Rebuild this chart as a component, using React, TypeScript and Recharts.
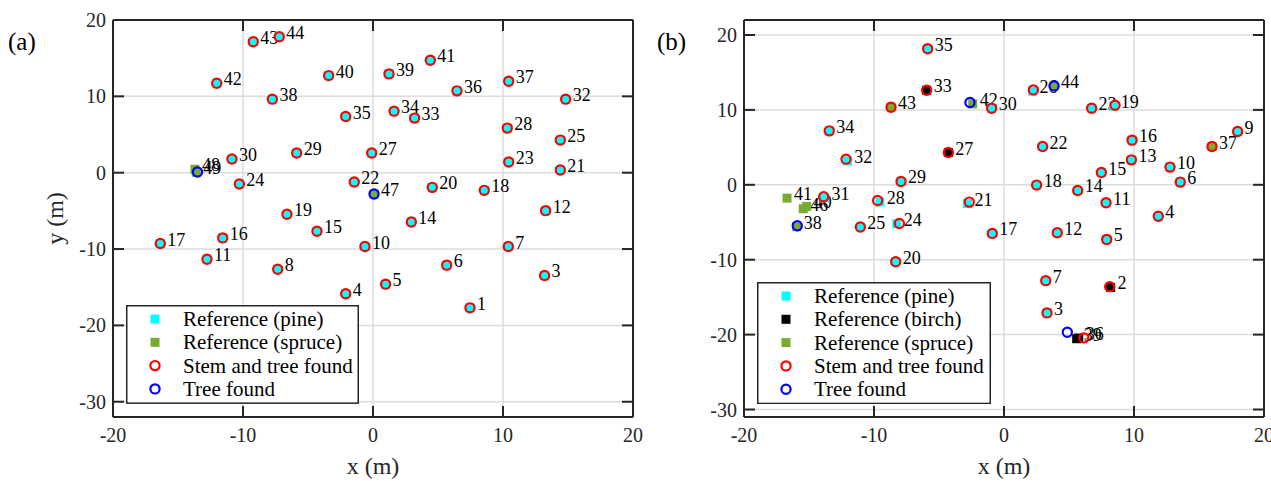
import React from 'react';
import { ScatterChart, Scatter, XAxis, YAxis, CartesianGrid, Legend } from 'recharts';

const FONT = '"Liberation Serif", "DejaVu Serif", serif';
const AX = '#262626';
const C_PINE = '#00ffff';
const C_BIRCH = '#000000';
const C_SPRUCE = '#77ac30';
const C_STEM = '#ff0000';
const C_TREE = '#0000ff';

const X_TICKS = [-20, -10, 0, 10, 20];
const Y_TICKS = [-30, -20, -10, 0, 10, 20];
const X_DOMAIN: [number, number] = [-20, 20];
const A_Y_DOMAIN: [number, number] = [-32, 20];
const B_Y_DOMAIN: [number, number] = [-31, 22];

type RefRow = [string, number, number];
type XY = [number, number];

// ---------- Panel (a) ----------
const A_PINE_REF: RefRow[] = [
  ['1', 7.46, -17.7], ['3', 13.2, -13.46], ['4', -2.1, -15.86], ['5', 0.97, -14.6],
  ['6', 5.67, -12.11], ['7', 10.41, -9.67], ['8', -7.33, -12.64], ['10', -0.62, -9.67],
  ['11', -12.77, -11.33], ['12', 13.28, -4.97], ['14', 2.95, -6.45], ['15', -4.31, -7.67],
  ['16', -11.56, -8.54], ['17', -16.36, -9.28], ['18', 8.56, -2.31], ['19', -6.62, -5.45],
  ['20', 4.56, -1.92], ['21', 14.41, 0.35], ['22', -1.44, -1.22], ['23', 10.44, 1.4],
  ['24', -10.28, -1.48], ['25', 14.41, 4.27], ['27', -0.1, 2.57], ['28', 10.33, 5.84],
  ['29', -5.87, 2.57], ['30', -10.85, 1.79], ['32', 14.82, 9.63], ['33', 3.2, 7.15],
  ['34', 1.62, 8.06], ['35', -2.1, 7.36], ['36', 6.46, 10.72], ['37', 10.44, 11.98],
  ['38', -7.74, 9.63], ['39', 1.23, 12.94], ['40', -3.41, 12.72], ['41', 4.41, 14.73],
  ['42', -12.02, 11.72], ['43', -9.21, 17.16], ['44', -7.21, 17.8],
];
const A_SPRUCE_REF: RefRow[] = [
  ['47', 0.08, -2.8], ['48', -13.7, 0.45], ['49', -13.6, 0.05],
];
const A_STEM: XY[] = [
  [7.46, -17.7], [13.2, -13.46], [-2.1, -15.86], [0.97, -14.6],
  [5.67, -12.11], [10.41, -9.67], [-7.33, -12.64], [-0.62, -9.67],
  [-12.77, -11.33], [13.28, -4.97], [2.95, -6.45], [-4.31, -7.67],
  [-11.56, -8.54], [-16.36, -9.28], [8.56, -2.31], [-6.62, -5.45],
  [4.56, -1.92], [14.41, 0.35], [-1.44, -1.22], [10.44, 1.4],
  [-10.28, -1.48], [14.41, 4.27], [-0.1, 2.57], [10.33, 5.84],
  [-5.87, 2.57], [-10.85, 1.79], [14.82, 9.63], [3.2, 7.15],
  [1.62, 8.06], [-2.1, 7.36], [6.46, 10.72], [10.44, 11.98],
  [-7.74, 9.63], [1.23, 12.94], [-3.41, 12.72], [4.41, 14.73],
  [-12.02, 11.72], [-9.21, 17.16], [-7.21, 17.8],
];
const A_TREE: XY[] = [[0.08, -2.8], [-13.5, 0.1]];

// ---------- Panel (b) ----------
const B_PINE_REF: RefRow[] = [
  ['35', -5.87, 18.17], ['34', -13.44, 7.2], ['32', -12.05, 3.2], ['29', -7.92, 0.44],
  ['31', -13.8, -1.75], ['28', -9.55, -2.3], ['21', -2.8, -2.5], ['25', -11.05, -5.64],
  ['24', -8.25, -5.2], ['20', -8.33, -10.27], ['30', -0.95, 10.22], ['26', 2.2, 12.5],
  ['23', 6.74, 10.22], ['19', 8.45, 10.5], ['16', 9.85, 5.96], ['22', 2.97, 5.11],
  ['9', 17.97, 7.11], ['13', 9.8, 3.33], ['10', 12.77, 2.36], ['15', 7.49, 1.64],
  ['6', 13.56, 0.36], ['18', 2.51, -0.04], ['14', 5.67, -0.76], ['11', 7.85, -2.4],
  ['4', 11.87, -4.2], ['17', -0.9, -6.49], ['12', 4.1, -6.4], ['5', 7.9, -7.29],
  ['7', 3.21, -12.8], ['3', 3.31, -17.1],
];
const B_BIRCH_REF: RefRow[] = [
  ['33', -5.95, 12.62], ['27', -4.28, 4.31], ['2', 8.2, -13.7],
  ['39', 5.59, -20.55], ['36', 5.75, -20.45],
];
const B_SPRUCE_REF: RefRow[] = [
  ['43', -8.69, 10.36], ['42', -2.41, 10.8], ['44', 3.85, 13.2], ['37', 16.0, 5.11],
  ['41', -16.69, -1.78], ['46', -15.44, -3.2], ['40', -15.18, -2.89], ['38', -15.95, -5.6],
];
const B_STEM: XY[] = [
  [-5.87, 18.17], [-13.44, 7.2], [-12.15, 3.42], [-7.92, 0.44],
  [-13.87, -1.6], [-9.72, -2.09], [-2.67, -2.31], [-11.05, -5.64],
  [-8.05, -5.16], [-8.33, -10.27], [-0.95, 10.22], [2.26, 12.67],
  [6.74, 10.22], [8.54, 10.62], [9.85, 5.96], [2.97, 5.11],
  [17.97, 7.11], [9.8, 3.33], [12.77, 2.36], [7.49, 1.64],
  [13.56, 0.36], [2.51, -0.04], [5.67, -0.76], [7.85, -2.4],
  [11.87, -4.2], [-0.9, -6.49], [4.1, -6.4], [7.9, -7.29],
  [3.21, -12.8], [3.31, -17.1],
  [-5.95, 12.62], [-4.28, 4.31], [8.13, -13.6], [6.15, -20.44],
  [-8.69, 10.36], [16.0, 5.11],
];
const B_TREE: XY[] = [[-2.62, 10.98], [3.85, 13.2], [-15.9, -5.47], [4.87, -19.69]];

const LEGEND_A = [
  { kind: 'square', color: C_PINE, label: 'Reference (pine)' },
  { kind: 'square', color: C_SPRUCE, label: 'Reference (spruce)' },
  { kind: 'circle', color: C_STEM, label: 'Stem and tree found' },
  { kind: 'circle', color: C_TREE, label: 'Tree found' },
];
const LEGEND_B = [
  { kind: 'square', color: C_PINE, label: 'Reference (pine)' },
  { kind: 'square', color: C_BIRCH, label: 'Reference (birch)' },
  { kind: 'square', color: C_SPRUCE, label: 'Reference (spruce)' },
  { kind: 'circle', color: C_STEM, label: 'Stem and tree found' },
  { kind: 'circle', color: C_TREE, label: 'Tree found' },
];

const toRefs = (rows: RefRow[]) => rows.map(([id, x, y]) => ({ id, x, y }));
const toXY = (rows: XY[]) => rows.map(([x, y]) => ({ x, y }));

const SQ = 9;
const R = 4.6;
const TICK_PX = 11;
const TM_BOTTOM = 11;
const TM_LEFT = 7;

const squareShape = (color: string) => (p: any) => (
  <rect x={p.cx - SQ / 2} y={p.cy - SQ / 2} width={SQ} height={SQ} fill={color} />
);
const circleShape = (color: string) => (p: any) => (
  <circle cx={p.cx} cy={p.cy} r={R} fill="none" stroke={color} strokeWidth={2.2} />
);
const labelShape = (p: any) => (
  <text x={p.cx + 7} y={p.cy + 2} fontSize={18} fontFamily={FONT} fill="#000">
    {p.payload?.id}
  </text>
);
// inward tick mark drawn at a tick position on the box edge
const tickMarkShape = (p: any) => {
  const d = p.payload?.dir;
  const ddx = d === 'right' ? TICK_PX : d === 'left' ? -TICK_PX : 0;
  const ddy = d === 'down' ? TICK_PX : d === 'up' ? -TICK_PX : 0;
  return <line x1={p.cx} y1={p.cy} x2={p.cx + ddx} y2={p.cy + ddy} stroke={AX} strokeWidth={2} />;
};

const BottomTick = (p: any) => (
  <text x={p.x} y={p.y} dy="0.71em" textAnchor="middle" fontSize={20} fontFamily={FONT} fill={AX}>
    {p.payload.value}
  </text>
);
const LeftTick = (p: any) => (
  <text x={p.x} y={p.y} dy="0.355em" textAnchor="end" fontSize={20} fontFamily={FONT} fill={AX}>
    {p.payload.value}
  </text>
);

const XLabel = (props: any) => {
  const vb = props.viewBox;
  return (
    <text x={vb.x + vb.width / 2} y={vb.y + 49} textAnchor="middle" dominantBaseline="central"
      fontSize={24} fontFamily={FONT} fill={AX}>x (m)</text>
  );
};
const YLabel = (props: any) => {
  const vb = props.viewBox;
  const cx = vb.x + 55;
  const cy = vb.y + vb.height / 2;
  return (
    <text x={cx} y={cy} transform={`rotate(-90 ${cx} ${cy})`} textAnchor="middle"
      dominantBaseline="central" fontSize={24} fontFamily={FONT} fill={AX}>y (m)</text>
  );
};

const LegendBox = ({ items, width }: { items: typeof LEGEND_A; width: number }) => {
  const step = 23.3;
  const h = 14 + (items.length - 1) * step + 15;
  return (
    <svg width={width} height={h} style={{ display: 'block' }}>
      <rect x={0.75} y={0.75} width={width - 1.5} height={h - 1.5} fill="#fff" stroke={AX} strokeWidth={1.5} />
      {items.map((it, i) => {
        const cy = 14 + i * step;
        return (
          <g key={it.label}>
            {it.kind === 'square' ? (
              <rect x={29 - SQ / 2} y={cy - SQ / 2} width={SQ} height={SQ} fill={it.color} />
            ) : (
              <circle cx={29} cy={cy} r={R} fill="none" stroke={it.color} strokeWidth={2.2} />
            )}
            <text x={57} y={cy} dominantBaseline="central" fontSize={21} fontFamily={FONT} fill="#000">
              {it.label}
            </text>
          </g>
        );
      })}
    </svg>
  );
};

type PanelProps = {
  left: number;
  width: number;
  rightMargin: number;
  axisW: number;
  yDomain: [number, number];
  pine: RefRow[];
  birch: RefRow[];
  spruce: RefRow[];
  stem: XY[];
  tree: XY[];
  legend: typeof LEGEND_A;
  legendPos: { left: number; top: number; width: number };
  showYLabel: boolean;
};

const BOX_LINE = { stroke: AX, strokeWidth: 2 };

function Panel(props: PanelProps) {
  const { left, width, rightMargin, axisW, yDomain, pine, birch, spruce, stem, tree, legend, legendPos, showYLabel } = props;
  const allRefs = [...toRefs(pine), ...toRefs(birch), ...toRefs(spruce)];
  const [xMin, xMax] = X_DOMAIN;
  const [yMin, yMax] = yDomain;
  const innerX = X_TICKS.filter((t) => t > xMin && t < xMax);
  const innerY = Y_TICKS.filter((v) => v > yMin && v <= yMax);
  const tickMarks = [
    ...innerX.map((t) => ({ x: t, y: yMin, dir: 'up' })),
    ...innerX.map((t) => ({ x: t, y: yMax, dir: 'down' })),
    ...innerY.map((v) => ({ x: xMin, y: v, dir: 'right' })),
    ...innerY.map((v) => ({ x: xMax, y: v, dir: 'left' })),
  ];
  return (
    <div style={{ position: 'absolute', left, top: 0 }}>
      <ScatterChart width={width} height={481} margin={{ top: 10, right: rightMargin, bottom: 0, left: 0 }}>
        <CartesianGrid stroke="#dcdcdc" strokeWidth={1.5} />
        <Scatter name="ticks" data={tickMarks} shape={tickMarkShape} isAnimationActive={false} legendType="none" />
        <Scatter name="labels" data={allRefs} shape={labelShape} isAnimationActive={false} />
        <Scatter name="Reference (pine)" data={toRefs(pine)} shape={squareShape(C_PINE)} isAnimationActive={false} />
        {birch.length > 0 && (
          <Scatter name="Reference (birch)" data={toRefs(birch)} shape={squareShape(C_BIRCH)} isAnimationActive={false} />
        )}
        <Scatter name="Reference (spruce)" data={toRefs(spruce)} shape={squareShape(C_SPRUCE)} isAnimationActive={false} />
        <Scatter name="Stem and tree found" data={toXY(stem)} shape={circleShape(C_STEM)} isAnimationActive={false} />
        <Scatter name="Tree found" data={toXY(tree)} shape={circleShape(C_TREE)} isAnimationActive={false} />
        <Scatter name="box" xAxisId="top" yAxisId="right" data={allRefs} shape={() => <g />} isAnimationActive={false} legendType="none" />

        <XAxis type="number" dataKey="x" domain={X_DOMAIN} ticks={X_TICKS} interval={0} allowDataOverflow
          height={64} stroke={AX} strokeWidth={2} axisLine={BOX_LINE} tickLine={false} tickSize={0} tickMargin={TM_BOTTOM}
          tick={BottomTick} label={XLabel} />
        <YAxis type="number" dataKey="y" domain={yDomain} ticks={Y_TICKS} interval={0} allowDataOverflow
          width={axisW} stroke={AX} strokeWidth={2} axisLine={BOX_LINE} tickLine={false} tickSize={0} tickMargin={TM_LEFT}
          tick={LeftTick} label={showYLabel ? YLabel : undefined} />
        <XAxis xAxisId="top" orientation="top" type="number" dataKey="x" domain={X_DOMAIN} ticks={X_TICKS}
          interval={0} allowDataOverflow height={10} stroke={AX} strokeWidth={2} axisLine={BOX_LINE} tickLine={false}
          tickSize={0} tickMargin={0} tick={false} />
        <YAxis yAxisId="right" orientation="right" type="number" dataKey="y" domain={yDomain} ticks={Y_TICKS}
          interval={0} allowDataOverflow width={7} stroke={AX} strokeWidth={2} axisLine={BOX_LINE} tickLine={false}
          tickSize={0} tickMargin={0} tick={false} />

        <Legend layout="vertical" align="center" verticalAlign="middle"
          wrapperStyle={{ left: legendPos.left, top: legendPos.top, width: legendPos.width }}
          content={() => <LegendBox items={legend} width={legendPos.width} />} />
      </ScatterChart>
    </div>
  );
}

export default function App() {
  return (
    <div style={{ position: 'absolute', left: 0, top: 0, width: 1271, height: 481, background: '#fff', overflow: 'hidden' }}>
      <Panel left={0} width={660} rightMargin={20} axisW={113} yDomain={A_Y_DOMAIN} pine={A_PINE_REF} birch={[]}
        spruce={A_SPRUCE_REF} stem={A_STEM} tree={A_TREE} legend={LEGEND_A}
        legendPos={{ left: 126, top: 305, width: 233 }} showYLabel />
      <Panel left={640} width={631} rightMargin={0} axisW={104} yDomain={B_Y_DOMAIN} pine={B_PINE_REF} birch={B_BIRCH_REF}
        spruce={B_SPRUCE_REF} stem={B_STEM} tree={B_TREE} legend={LEGEND_B}
        legendPos={{ left: 117, top: 282, width: 234 }} showYLabel={false} />
      <svg width={1271} height={481} style={{ position: 'absolute', left: 0, top: 0, pointerEvents: 'none' }}>
        <text x={8} y={50} fontSize={25} fontFamily={FONT} fill="#000">(a)</text>
        <text x={657} y={50} fontSize={25} fontFamily={FONT} fill="#000">(b)</text>
      </svg>
    </div>
  );
}
